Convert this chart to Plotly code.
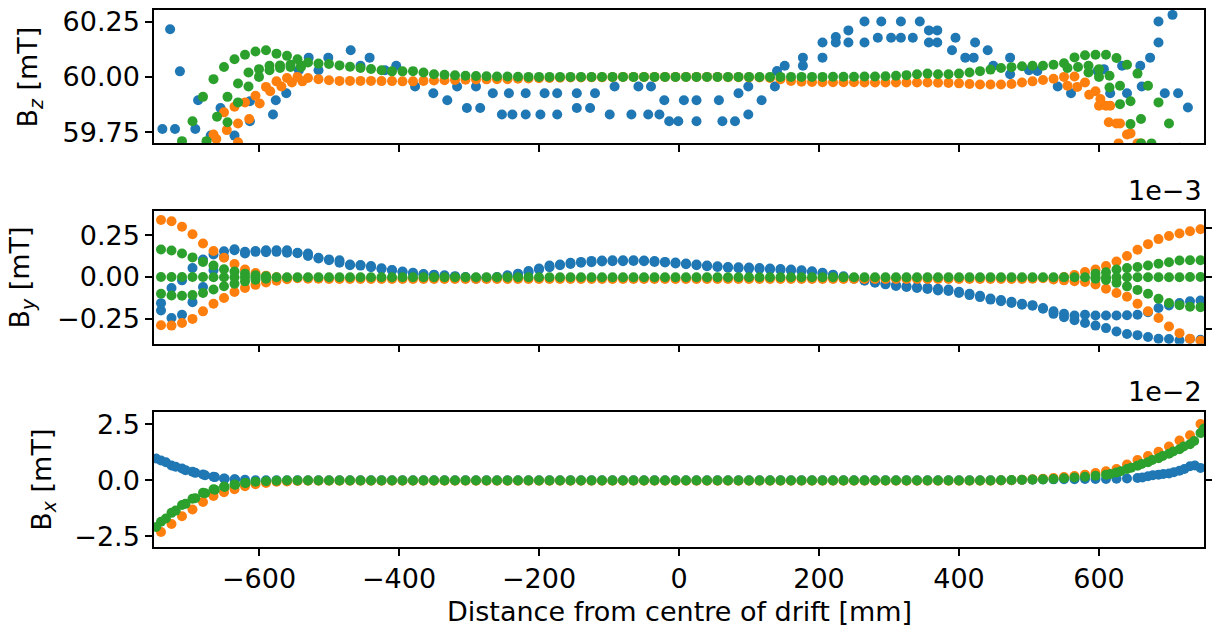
import plotly.graph_objects as go

# ---------------- data ----------------
# common measurement grid (mm)
X = [-740, -725, -710, -695, -680, -665, -650, -635, -620, -605,
     -590, -575, -560, -545, -530, -515, -500, -485, -470, -455,
     -440, -425, -410, -395, -380, -365, -350, -335, -320, -305,
     -290, -275, -260, -245, -230, -215, -200, -185, -170, -155,
     -140, -125, -110, -95, -80, -65, -50, -35, -20, -5,
     10, 25, 40, 55, 70, 85, 100, 115, 130, 145,
     160, 175, 190, 205, 220, 235, 250, 265, 280, 295,
     310, 325, 340, 355, 370, 385, 400, 415, 430, 445,
     460, 475, 490, 505, 520, 535, 550, 565, 580, 595,
     610, 625, 640, 655, 670, 685, 700, 715, 730, 745]

# ---- Bz [mT] ----
BZ_BLUE_X = [-738, -727, -720, -713, -691, -687, -669, -655, -635, -613, -613, -580, -576, -561,
             -543, -529, -515, -501, -469, -455, -442, -420, -404, -377, -351, -331, -317, -303,
             -290, -284, -266, -253, -243, -238, -219, -219, -198, -192, -174, -174, -146, -146,
             -127, -120, -99, -92, -68, -58, -44, -40, -28, -21, -14, -1, 7, 25, 25, 57, 62, 80,
             85, 99, 99, 118, 137, 140, 151, 177, 177, 205, 205, 224, 224, 242, 242, 265, 265,
             284, 289, 303, 317, 317, 334, 344, 357, 357, 369, 369, 390, 395, 409, 421, 423, 441,
             449, 473, 473, 500, 512, 541, 560, 598, 607, 616, 633, 640, 659, 661, 673, 685, 685,
             694, 705, 713, 727]
BZ_BLUE_Y = [59.765, 60.215, 59.765, 60.025, 59.765, 59.895, 59.735, 59.86, 59.735, 59.80, 59.89, 59.83, 59.895, 59.926,
             60.03, 60.087, 60.03, 60.087, 60.12, 60.05, 60.087, 60.03, 60.05, 59.957, 59.926, 59.895, 59.957, 59.86,
             59.957, 59.86, 59.926, 59.83, 59.926, 59.83, 59.926, 59.83, 59.83, 59.926, 59.926, 59.83, 59.926, 59.86,
             59.86, 59.926, 59.83, 59.957, 59.83, 59.957, 59.83, 59.957, 59.83, 59.895, 59.80, 59.80, 59.895, 59.895, 59.80, 59.895, 59.80, 59.80,
             59.926, 59.83, 59.957, 59.895, 59.957, 60.027, 60.05, 60.087, 60.05, 60.087, 60.155, 60.18, 60.155, 60.21, 60.155, 60.25, 60.155,
             60.177, 60.25, 60.177, 60.25, 60.177, 60.177, 60.25, 60.21, 60.155, 60.21, 60.155, 60.12, 60.177, 60.087, 60.087, 60.155, 60.12,
             60.05, 60.087, 60.012, 60.03, 60.027, 59.957, 59.926, 60.027, 60.035, 59.926, 60.05, 59.926, 60.05, 59.957, 60.087, 60.155, 60.25,
             59.926, 60.28, 59.926, 59.862]

BZ_ORANGE = [59.50, 59.53, 59.57, 59.61, 59.66, 59.74, 59.84, 59.865, 59.885, 59.915,
             59.955, 59.98, 59.995, 60.0, 59.995, 59.99, 59.985, 59.982, 59.982, 59.982,
             59.982, 59.981, 59.981, 59.98, 59.98, 59.982, 59.984, 59.985, 59.986, 59.987,
             59.988, 59.989, 59.99, 59.99, 59.992, 59.993, 59.994, 59.995, 59.996, 59.997,
             59.997, 59.998, 59.998, 59.999, 60.0, 60.0, 60.0, 60.0, 60.0, 60.0,
             60.0, 60.0, 60.0, 60.0, 59.999, 59.999, 59.998, 59.997, 59.995, 59.99,
             59.982, 59.978, 59.977, 59.976, 59.976, 59.976, 59.976, 59.975, 59.975, 59.975,
             59.975, 59.975, 59.975, 59.975, 59.974, 59.973, 59.971, 59.968, 59.966, 59.966,
             59.966, 59.968, 59.975, 59.98, 59.986, 59.992, 60.0, 60.002, 59.975, 59.935,
             59.87, 59.79, 59.74, 59.70, 59.64, 59.59, 59.54, 59.49, 59.44, 59.39]
BZ_ORANGE_B_X = [-661, -646, -630, -614, -599, -584, -568, -553, -538, 555, 569, 586, 600, 614, 628]
BZ_ORANGE_B_Y = [59.72, 59.76, 59.79, 59.81, 59.88, 59.935, 59.957, 59.975, 59.98,
                 59.96, 59.955, 59.92, 59.87, 59.795, 59.70]
BZ_ORANGE_C_X = [-645, -630, 602, 616, 630, 645, 660]
BZ_ORANGE_C_Y = [59.66, 59.705, 59.90, 59.87, 59.79, 59.745, 59.70]

BZ_GREEN = [59.55, 59.62, 59.71, 59.80, 59.91, 59.99, 60.045, 60.08, 60.10, 60.115,
            60.12, 60.105, 60.095, 60.08, 60.065, 60.06, 60.058, 60.052, 60.046, 60.04,
            60.036, 60.03, 60.025, 60.025, 60.026, 60.02, 60.012, 60.01, 60.007, 60.005,
            60.004, 60.003, 60.002, 60.002, 60.001, 60.0, 60.0, 60.0, 60.0, 60.0,
            60.0, 60.0, 60.0, 60.0, 60.0, 60.0, 60.0, 60.0, 60.0, 60.0,
            60.0, 60.0, 60.0, 60.0, 60.0, 60.0, 60.0, 60.0, 60.0, 60.0,
            60.0, 60.0, 60.0, 60.0, 60.001, 60.001, 60.001, 60.002, 60.002, 60.003,
            60.005, 60.008, 60.012, 60.015, 60.012, 60.012, 60.015, 60.02, 60.026, 60.033,
            60.04, 60.044, 60.048, 60.05, 60.05, 60.055, 60.062, 60.088, 60.098, 60.10,
            60.10, 60.085, 60.055, 60.015, 59.96, 59.885, 59.79, 59.68, 59.57, 59.45]
BZ_GREEN_B_X = [-675, -660, -645, -630, -615, -600, -585, -570, -555, -540,
                555, 570, 585, 600, 615, 630, 645, 660, 675]
BZ_GREEN_B_Y = [59.71, 59.82, 59.91, 59.97, 60.02, 60.035, 60.05, 60.052, 60.055, 60.05,
                60.04, 60.045, 60.05, 60.035, 60.005, 59.96, 59.89, 59.81, 59.70]
BZ_GREEN_C_X = [-645, -630, -615, -600, -585, -570, -555, -540, 585, 600, 615, 630, 645, 660]
BZ_GREEN_C_Y = [59.795, 59.885, 59.957, 60.0, 60.03, 60.04, 60.045, 60.045,
                60.02, 60.0, 59.952, 59.877, 59.787, 59.70]

# ---- By [1e-3 mT] ----
BY_BLUE_A = [-0.20, -0.245, -0.225, -0.15, -0.06, 0.04, 0.12, 0.16, 0.15, 0.155,
             0.16, 0.15, 0.16, 0.145, 0.14, 0.115, 0.105, 0.10, 0.075, 0.072,
             0.065, 0.052, 0.042, 0.032, 0.025, 0.018, 0.014, 0.01, 0.005, 0.0,
             -0.005, -0.005, 0.0, 0.01, 0.02, 0.035, 0.05, 0.068, 0.075, 0.085,
             0.09, 0.096, 0.098, 0.10, 0.10, 0.10, 0.098, 0.095, 0.09, 0.086,
             0.08, 0.075, 0.068, 0.064, 0.06, 0.058, 0.056, 0.054, 0.05, 0.047,
             0.044, 0.04, 0.034, 0.025, 0.014, 0.004, -0.006, -0.018, -0.028, -0.038,
             -0.048, -0.056, -0.06, -0.065, -0.07, -0.075, -0.088, -0.10, -0.112, -0.128,
             -0.138, -0.148, -0.16, -0.168, -0.19, -0.22, -0.24, -0.258, -0.275, -0.29,
             -0.305, -0.325, -0.34, -0.347, -0.358, -0.368, -0.37, -0.378, -0.37, -0.375]
BY_BLUE_B = [-0.156, -0.066, -0.02, 0.054, 0.104, 0.134, 0.154, 0.165, 0.14, 0.15,
             0.148, 0.16, 0.145, 0.142, 0.125, 0.11, 0.10, 0.085, 0.07, 0.068,
             0.058, 0.048, 0.04, 0.03, 0.02, 0.015, 0.01, 0.006, 0.002, -0.004,
             -0.01, -0.008, -0.004, 0.004, 0.014, 0.028, 0.045, 0.058, 0.07, 0.078,
             0.085, 0.088, 0.092, 0.094, 0.094, 0.095, 0.094, 0.09, 0.086, 0.08,
             0.076, 0.07, 0.064, 0.06, 0.056, 0.052, 0.05, 0.048, 0.045, 0.042,
             0.038, 0.034, 0.028, 0.02, 0.01, 0.0, -0.01, -0.022, -0.034, -0.044,
             -0.054, -0.06, -0.066, -0.072, -0.08, -0.084, -0.095, -0.108, -0.12, -0.135,
             -0.145, -0.155, -0.165, -0.172, -0.185, -0.205, -0.22, -0.23, -0.225, -0.23,
             -0.23, -0.23, -0.228, -0.225, -0.21, -0.185, -0.17, -0.155, -0.145, -0.14]

BY_ORANGE = [0.34, 0.333, 0.30, 0.255, 0.20, 0.155, 0.115, 0.078, 0.045, 0.024,
             0.008, -0.002, -0.006, -0.008, -0.01, -0.01, -0.012, -0.012, -0.012, -0.012,
             -0.012, -0.012, -0.012, -0.012, -0.012, -0.012, -0.012, -0.012, -0.012, -0.012,
             -0.012, -0.012, -0.012, -0.012, -0.012, -0.012, -0.012, -0.012, -0.012, -0.012,
             -0.012, -0.012, -0.012, -0.012, -0.012, -0.012, -0.012, -0.012, -0.012, -0.012,
             -0.012, -0.012, -0.012, -0.012, -0.012, -0.012, -0.012, -0.012, -0.012, -0.012,
             -0.012, -0.012, -0.012, -0.012, -0.012, -0.012, -0.012, -0.012, -0.012, -0.012,
             -0.012, -0.012, -0.012, -0.012, -0.012, -0.012, -0.012, -0.012, -0.012, -0.012,
             -0.012, -0.012, -0.012, -0.01, -0.008, -0.006, 0.0, 0.012, 0.03, 0.045,
             0.065, 0.092, 0.125, 0.163, 0.196, 0.226, 0.245, 0.259, 0.273, 0.285]
BY_ORANGE_LOW_X = [-740, -725, -710, -695, -680, -665, -650, -635, -620, -605, -590, -575, -560,
                   535, 550, 565, 580, 595, 610, 625, 640, 655, 670, 685, 700, 715, 730, 745]
BY_ORANGE_LOW_Y = [-0.288, -0.29, -0.275, -0.25, -0.205, -0.16, -0.125, -0.09, -0.065, -0.047, -0.033, -0.022, -0.014,
                   -0.015, -0.02, -0.025, -0.03, -0.045, -0.07, -0.095, -0.118, -0.16, -0.205, -0.245, -0.295, -0.335, -0.368, -0.38]

BY_GREEN = [0.0, 0.0, 0.0, 0.0, 0.0, -0.002, -0.002, -0.002, -0.002, -0.002,
            -0.002, -0.002, -0.002, -0.002, -0.002, -0.002, -0.002, -0.002, -0.002, -0.002,
            -0.002, -0.002, -0.002, -0.002, -0.002, -0.002, -0.002, -0.002, -0.002, -0.002,
            -0.002, -0.002, -0.002, -0.002, -0.002, -0.002, -0.002, -0.002, -0.002, -0.002,
            -0.002, -0.002, -0.002, -0.002, -0.002, -0.002, -0.002, -0.002, -0.002, -0.002,
            -0.002, -0.002, -0.002, -0.002, -0.002, -0.002, -0.002, -0.002, -0.002, -0.002,
            -0.002, -0.002, -0.002, -0.002, -0.002, -0.002, -0.002, -0.002, -0.002, -0.002,
            -0.002, -0.002, -0.002, -0.002, -0.002, -0.002, -0.002, -0.002, -0.002, -0.002,
            -0.002, -0.002, -0.002, -0.002, -0.002, -0.002, -0.002, -0.002, -0.002, -0.002,
            -0.002, -0.002, -0.002, -0.002, -0.002, -0.002, -0.002, -0.002, 0.0, 0.0]
BY_GREEN_UP_X = [-740, -725, -710, -695, -680, -665, -650, -635, -620, -605, -590,
                 595, 610, 625, 640, 655, 670, 685, 700, 715, 730, 745]
BY_GREEN_UP_Y = [0.164, 0.158, 0.14, 0.117, 0.09, 0.068, 0.046, 0.032, 0.02, 0.01, 0.004,
                 0.02, 0.028, 0.045, 0.053, 0.06, 0.069, 0.079, 0.088, 0.098, 0.10, 0.10]
BY_GREEN_LOW_X = [-740, -725, -710, -695, -680, -665, -650, -635, -620, -605, -590,
                  595, 610, 625, 640, 655, 670, 685, 700, 715, 730, 745]
BY_GREEN_LOW_Y = [-0.10, -0.11, -0.112, -0.108, -0.095, -0.075, -0.055, -0.04, -0.026, -0.016, -0.01,
                  -0.01, -0.018, -0.035, -0.056, -0.077, -0.10, -0.13, -0.155, -0.168, -0.178, -0.18]

# ---- Bx [1e-2 mT] ----
BX_BLUE = [0.88, 0.66, 0.52, 0.38, 0.26, 0.16, 0.08, 0.04, 0.02, 0.0,
           0.0, 0.0, 0.0, 0.0, 0.0, 0.0, 0.0, 0.0, 0.0, 0.0,
           0.0, 0.0, 0.0, 0.0, 0.0, 0.0, 0.0, 0.0, 0.0, 0.0,
           0.0, 0.0, 0.0, 0.0, 0.0, 0.0, 0.0, 0.0, 0.0, 0.0,
           0.0, 0.0, 0.0, 0.0, 0.0, 0.0, 0.0, 0.0, 0.0, 0.0,
           0.0, 0.0, 0.0, 0.0, 0.0, 0.0, 0.0, 0.0, 0.0, 0.0,
           0.0, 0.0, 0.0, 0.0, 0.0, 0.0, 0.0, 0.0, 0.0, 0.0,
           0.0, 0.0, 0.0, 0.0, 0.0, 0.0, 0.0, 0.0, 0.0, 0.0,
           0.0, 0.0, 0.01, 0.02, 0.03, 0.04, 0.05, 0.05, 0.06, 0.06,
           0.06, 0.07, 0.08, 0.10, 0.18, 0.25, 0.30, 0.42, 0.62, 0.55]
BX_BLUE_B_X = [-747, -733, -719, -705, -691, -677, -663, -649, -634, 662, 677, 692, 707, 722, 737]
BX_BLUE_B_Y = [0.97, 0.80, 0.60, 0.45, 0.33, 0.22, 0.14, 0.07, 0.03, 0.12, 0.22, 0.28, 0.36, 0.50, 0.66]

BX_ORANGE = [-2.3, -1.95, -1.6, -1.3, -0.97, -0.7, -0.53, -0.4, -0.27, -0.18,
             -0.12, -0.07, -0.05, -0.03, -0.02, -0.02, -0.02, -0.02, -0.02, -0.02,
             -0.02, -0.02, -0.02, -0.02, -0.02, -0.02, -0.02, -0.02, -0.02, -0.02,
             -0.02, -0.02, -0.02, -0.02, -0.02, -0.02, -0.02, -0.02, -0.02, -0.02,
             -0.02, -0.02, -0.02, -0.02, -0.02, -0.02, -0.02, -0.02, -0.02, -0.02,
             -0.02, -0.02, -0.02, -0.02, -0.02, -0.02, -0.02, -0.02, -0.02, -0.02,
             -0.02, -0.02, -0.02, -0.02, -0.02, -0.02, -0.02, -0.02, -0.02, -0.02,
             -0.02, -0.02, -0.02, -0.02, -0.02, -0.02, -0.02, -0.02, -0.02, -0.02,
             -0.01, 0.0, 0.02, 0.04, 0.07, 0.10, 0.14, 0.19, 0.25, 0.32,
             0.40, 0.50, 0.70, 0.90, 1.08, 1.27, 1.50, 1.77, 2.0, 2.5]
BX_GREEN = [-1.85, -1.45, -1.1, -0.82, -0.56, -0.4, -0.28, -0.19, -0.12, -0.07,
            -0.04, -0.02, -0.01, -0.01, -0.01, -0.01, -0.01, -0.01, -0.01, -0.01,
            -0.01, -0.01, -0.01, -0.01, -0.01, -0.01, -0.01, -0.01, -0.01, -0.01,
            -0.01, -0.01, -0.01, -0.01, -0.01, -0.01, -0.01, -0.01, -0.01, -0.01,
            -0.01, -0.01, -0.01, -0.01, -0.01, -0.01, -0.01, -0.01, -0.01, -0.01,
            -0.01, -0.01, -0.01, -0.01, -0.01, -0.01, -0.01, -0.01, -0.01, -0.01,
            -0.01, -0.01, -0.01, -0.01, -0.01, -0.01, -0.01, -0.01, -0.01, -0.01,
            -0.01, -0.01, -0.01, -0.01, -0.01, -0.01, -0.01, -0.01, -0.01, -0.01,
            0.0, 0.01, 0.02, 0.03, 0.04, 0.06, 0.09, 0.12, 0.16, 0.20,
            0.25, 0.35, 0.50, 0.65, 0.80, 0.98, 1.18, 1.38, 1.60, 2.10]
BX_GREEN_B_X = [-747, -733, -719, -705, -691, -677, -663, -649, -634, -619,
                616, 631, 646, 661, 676, 691, 706, 721, 736, 750]
BX_GREEN_B_Y = [-2.08, -1.70, -1.35, -1.05, -0.80, -0.58, -0.42, -0.30, -0.20, -0.12,
                0.28, 0.40, 0.56, 0.72, 0.90, 1.08, 1.28, 1.50, 1.75, 2.30]

X_TICKS = [-600, -400, -200, 0, 200, 400, 600]
X_TICKTEXT = ["\u2212600", "\u2212400", "\u2212200", "0", "200", "400", "600"]
BZ_TICKS = [59.75, 60.0, 60.25]
BZ_TICKTEXT = ["59.75", "60.00", "60.25"]
BY_TICKS = [-0.25, 0.0, 0.25]
BY_TICKTEXT = ["\u22120.25", "0.00", "0.25"]
BX_TICKS = [-2.5, 0.0, 2.5]
BX_TICKTEXT = ["\u22122.5", "0.0", "2.5"]

# ---------------- figure ----------------
BLUE, ORANGE, GREEN = "#1f77b4", "#ff7f0e", "#2ca02c"
MS = 10
FONT = "DejaVu Sans"
FS = 27

fig = go.Figure()


def add(x, y, color, xa, ya):
    fig.add_trace(go.Scatter(x=x, y=y, mode="markers",
                             marker=dict(color=color, size=MS, line=dict(width=0)),
                             xaxis=xa, yaxis=ya, showlegend=False, hoverinfo="skip"))


# Bz panel
add(BZ_BLUE_X, BZ_BLUE_Y, BLUE, "x", "y")
add(X, BZ_ORANGE, ORANGE, "x", "y")
add(BZ_ORANGE_B_X, BZ_ORANGE_B_Y, ORANGE, "x", "y")
add(BZ_ORANGE_C_X, BZ_ORANGE_C_Y, ORANGE, "x", "y")
add(X, BZ_GREEN, GREEN, "x", "y")
add(BZ_GREEN_B_X, BZ_GREEN_B_Y, GREEN, "x", "y")
add(BZ_GREEN_C_X, BZ_GREEN_C_Y, GREEN, "x", "y")

# By panel
add(X, BY_BLUE_A, BLUE, "x2", "y2")
add(X, BY_BLUE_B, BLUE, "x2", "y2")
add(X, BY_ORANGE, ORANGE, "x2", "y2")
add(BY_ORANGE_LOW_X, BY_ORANGE_LOW_Y, ORANGE, "x2", "y2")
add(X, BY_GREEN, GREEN, "x2", "y2")
add(BY_GREEN_UP_X, BY_GREEN_UP_Y, GREEN, "x2", "y2")
add(BY_GREEN_LOW_X, BY_GREEN_LOW_Y, GREEN, "x2", "y2")

# Bx panel
add(X, BX_BLUE, BLUE, "x3", "y3")
add(BX_BLUE_B_X, BX_BLUE_B_Y, BLUE, "x3", "y3")
add(X, BX_ORANGE, ORANGE, "x3", "y3")
add(X, BX_GREEN, GREEN, "x3", "y3")
add(BX_GREEN_B_X, BX_GREEN_B_Y, GREEN, "x3", "y3")

# invisible traces for the right-hand tick axes
fig.add_trace(go.Scatter(x=[0], y=[0], mode="markers", marker=dict(opacity=0),
                         xaxis="x2", yaxis="y4", showlegend=False, hoverinfo="skip"))
fig.add_trace(go.Scatter(x=[0], y=[0], mode="markers", marker=dict(opacity=0),
                         xaxis="x3", yaxis="y5", showlegend=False, hoverinfo="skip"))

LW = 1.5
common = dict(showgrid=False, zeroline=False, showline=True, linecolor="black",
              linewidth=LW, mirror=True, ticks="outside", ticklen=7, tickwidth=LW,
              tickcolor="black", tickfont=dict(family=FONT, size=FS, color="black"))

XR = [-750, 750]
D_TOP = [0.7522, 1.0]
D_MID = [0.3786, 0.6264]
D_BOT = [0.0, 0.2515]
R_BZ = [59.7014, 60.302]
R_BY = [-0.398, 0.396]
R_BX = [-2.97, 3.04]

fig.update_layout(
    width=1217, height=631,
    margin=dict(l=154, r=6, t=9, b=84),
    paper_bgcolor="white", plot_bgcolor="white",
    font=dict(family=FONT, size=FS, color="black"),
    xaxis=dict(domain=[0, 1], anchor="y", range=XR, tickvals=X_TICKS, showticklabels=False, **common),
    xaxis2=dict(domain=[0, 1], anchor="y2", range=XR, tickvals=X_TICKS, showticklabels=False, **common),
    xaxis3=dict(domain=[0, 1], anchor="y3", range=XR, tickvals=X_TICKS, ticktext=X_TICKTEXT, **common),
    yaxis=dict(domain=D_TOP, anchor="x", range=R_BZ, tickvals=BZ_TICKS, ticktext=BZ_TICKTEXT, **common),
    yaxis2=dict(domain=D_MID, anchor="x2", range=R_BY, tickvals=BY_TICKS, ticktext=BY_TICKTEXT, **common),
    yaxis3=dict(domain=D_BOT, anchor="x3", range=R_BX, tickvals=BX_TICKS, ticktext=BX_TICKTEXT, **common),
    yaxis4=dict(overlaying="y2", side="right", anchor="x2", range=R_BY, tickvals=[0.29, 0.0, -0.3125],
                showticklabels=False, showgrid=False, zeroline=False, showline=False,
                ticks="outside", ticklen=7, tickwidth=LW, tickcolor="black"),
    yaxis5=dict(overlaying="y3", side="right", anchor="x3", range=R_BX, tickvals=[0.0],
                showticklabels=False, showgrid=False, zeroline=False, showline=False,
                ticks="outside", ticklen=7, tickwidth=LW, tickcolor="black"),
)

ann = []
PW = 1057.0
for label, xc, yc in [("B<sub><i>z</i></sub> [mT]", 29, 0.8758),
                      ("B<sub><i>y</i></sub> [mT]", 21, 0.5015),
                      ("B<sub><i>x</i></sub> [mT]", 43, 0.1248)]:
    ann.append(dict(text=label, xref="paper", yref="paper", x=(xc - 154) / PW, y=yc,
                    xanchor="center", yanchor="middle", textangle=-90, showarrow=False,
                    font=dict(family=FONT, size=FS, color="black")))
ann.append(dict(text="1e\u22123", xref="paper", yref="paper", x=1, y=0.632, xanchor="right",
                yanchor="bottom", showarrow=False, font=dict(family=FONT, size=FS, color="black")))
ann.append(dict(text="1e\u22122", xref="paper", yref="paper", x=1, y=0.2575, xanchor="right",
                yanchor="bottom", showarrow=False, font=dict(family=FONT, size=FS, color="black")))
ann.append(dict(text="Distance from centre of drift [mm]", xref="paper", yref="paper", x=0.5,
                y=-0.1208, xanchor="center", yanchor="middle", showarrow=False,
                font=dict(family=FONT, size=FS, color="black")))
fig.update_layout(annotations=ann)

fig.write_html("out.html")
